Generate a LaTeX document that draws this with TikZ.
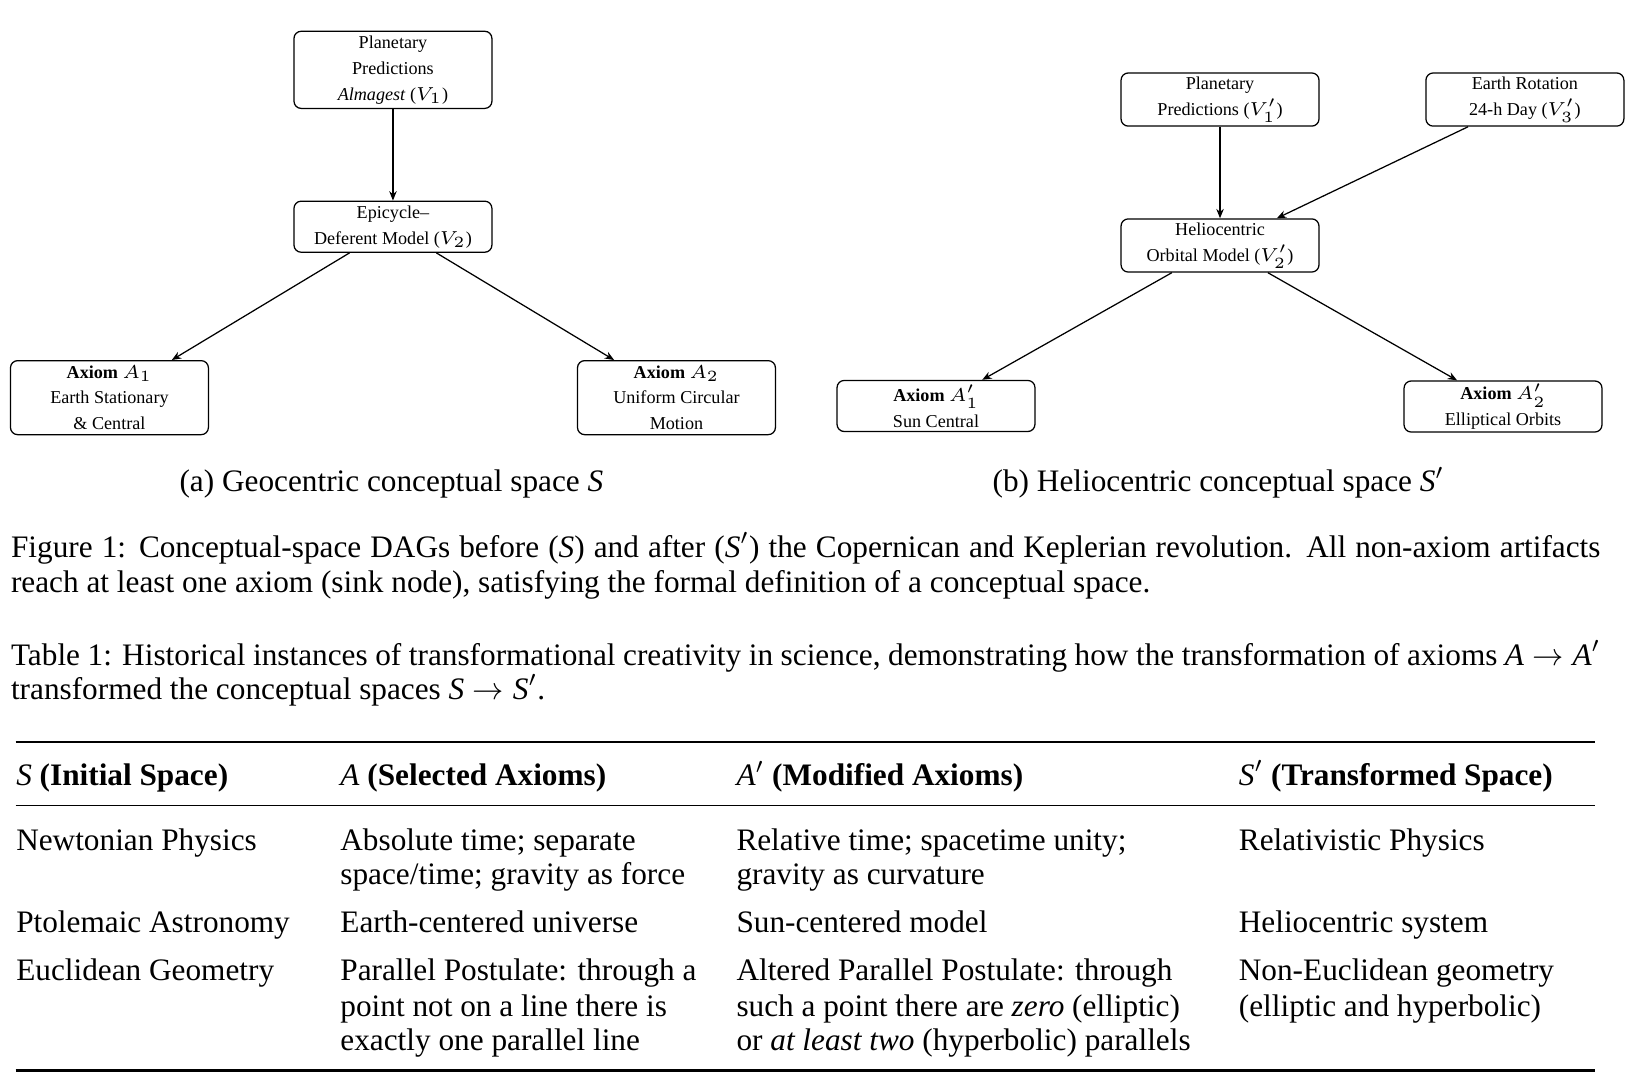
\documentclass[tikz,border=0pt]{standalone}
\usepackage{fontspec}
\setmainfont{Liberation Serif}
\usetikzlibrary{arrows.meta}
\tikzset{
  box/.style={draw, line width=0.4pt, rounded corners=2.3pt, fill=white,
    minimum width=63.3pt, inner sep=0pt, align=center,
    font=\fontsize{5.8}{8.3}\selectfont},
  arr/.style={-{Stealth[length=3pt,width=2.4pt]}, line width=0.4pt},
  txt/.style={anchor=base west, inner sep=0pt, font=\fontsize{10}{11}\selectfont},
  ctxt/.style={anchor=base, inner sep=0pt, font=\fontsize{10}{11}\selectfont},
  hrule/.style={line width=0.8pt},
  mrule/.style={line width=0.5pt}
}
\begin{document}
\begin{tikzpicture}[x=0.33333pt,y=-0.33333pt]
\useasboundingbox (0,0) rectangle (1560,1046);
% ---- (a) geocentric
\node[box, minimum height=24.67pt] (v1) at (377,67) {Planetary\\Predictions\\\textit{Almagest} ($V_1$)};
\node[box, minimum height=16.33pt] (v2) at (377,217.5) {Epicycle--\\Deferent Model ($V_2$)};
\node[box, minimum height=23.67pt] (a1) at (105,381.5) {\textbf{Axiom} $A_1$\\Earth Stationary\\\& Central};
\node[box, minimum height=23.67pt] (a2) at (649,381.5) {\textbf{Axiom} $A_2$\\Uniform Circular\\Motion};
\draw[arr] (v1) -- (v2);
\draw[arr] (v2) -- (a1);
\draw[arr] (v2) -- (a2);
% ---- (b) heliocentric
\node[box, minimum height=17pt] (w1) at (1170.5,95.5) {Planetary\\Predictions ($V_1'$)};
\node[box, minimum height=17pt] (w3) at (1463,95.5) {Earth Rotation\\24-h Day ($V_3'$)};
\node[box, minimum height=17pt] (w2) at (1170.5,235.5) {Heliocentric\\Orbital Model ($V_2'$)};
\node[box, minimum height=16.33pt] (b1) at (898,389.5) {\textbf{Axiom} $A_1'$\\Sun Central};
\node[box, minimum height=16.33pt] (b2) at (1442,390) {\textbf{Axiom} $A_2'$\\Elliptical Orbits};
\draw[arr] (w1) -- (w2);
\draw[arr] (w3) -- (w2);
\draw[arr] (w2) -- (b1);
\draw[arr] (w2) -- (b2);
% ---- sub captions
\node[ctxt] (capa) at (375.5,472) {(a) Geocentric conceptual space $\textit{S}$};
\node[ctxt] (capb) at (1169,472) {(b) Heliocentric conceptual space $\textit{S}'$};
% ---- figure caption
\node[txt] (fc1) at (10,535) {\hbox to 508.3pt{Figure 1: Conceptual-space DAGs before ($\textit{S}$) and after ($\textit{S}'$) the Copernican and Keplerian revolution.  All non-axiom artifacts}};
\node[txt] (fc2) at (10,568) {reach at least one axiom (sink node), satisfying the formal definition of a conceptual space.};
% ---- table caption
\node[txt] (tc1) at (10,638) {\hbox to 508.3pt{Table 1: Historical instances of transformational creativity in science, demonstrating how the transformation of axioms $\textit{A}\rightarrow \textit{A}'$}};
\node[txt] (tc2) at (10,671) {transformed the conceptual spaces $\textit{S}\rightarrow \textit{S}'$.};
% ---- table rules
\coordinate (r1l) at (15,712); \coordinate (r1r) at (1530,712);
\coordinate (r2l) at (15,773); \coordinate (r2r) at (1530,773);
\coordinate (r3l) at (15,1027); \coordinate (r3r) at (1530,1027);
\draw[hrule] (r1l) -- (r1r);
\draw[mrule] (r2l) -- (r2r);
\draw[hrule] (r3l) -- (r3r);
% ---- header
\node[txt] (h1) at (15,754) {\textit{S} \textbf{(Initial Space)}};
\node[txt] (h2) at (326,754) {\textit{A} \textbf{(Selected Axioms)}};
\node[txt] (h3) at (706,754) {$\textit{A}'$ \textbf{(Modified Axioms)}};
\node[txt] (h4) at (1188,754) {$\textit{S}'$ \textbf{(Transformed Space)}};
% ---- row 1
\node[txt] (c11) at (15,816) {Newtonian Physics};
\node[txt] (c12a) at (326,816) {Absolute time; separate};
\node[txt] (c12b) at (326,849) {space/time; gravity as force};
\node[txt] (c13a) at (706,816) {Relative time; spacetime unity;};
\node[txt] (c13b) at (706,849) {gravity as curvature};
\node[txt] (c14) at (1188,816) {Relativistic Physics};
% ---- row 2
\node[txt] (c21) at (15,895) {Ptolemaic Astronomy};
\node[txt] (c22) at (326,895) {Earth-centered universe};
\node[txt] (c23) at (706,895) {Sun-centered model};
\node[txt] (c24) at (1188,895) {Heliocentric system};
% ---- row 3
\node[txt] (c31) at (15,941) {Euclidean Geometry};
\node[txt] (c32a) at (326,941) {Parallel Postulate: through a};
\node[txt] (c32b) at (326,975) {point not on a line there is};
\node[txt] (c32c) at (326,1008) {exactly one parallel line};
\node[txt] (c33a) at (706,941) {Altered Parallel Postulate: through};
\node[txt] (c33b) at (706,975) {such a point there are \textit{zero} (elliptic)};
\node[txt] (c33c) at (706,1008) {or \textit{at least two} (hyperbolic) parallels};
\node[txt] (c34a) at (1188,941) {Non-Euclidean geometry};
\node[txt] (c34b) at (1188,975) {(elliptic and hyperbolic)};
\end{tikzpicture}
\end{document}
